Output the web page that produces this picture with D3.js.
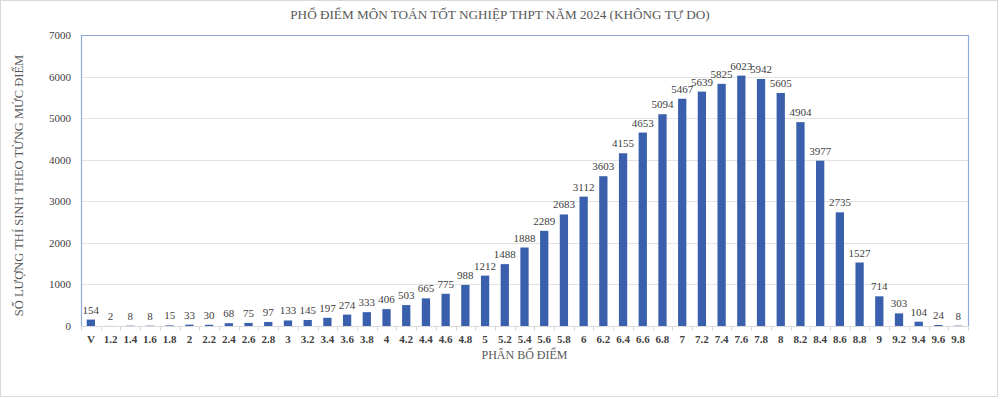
<!DOCTYPE html>
<html>
<head>
<meta charset="utf-8">
<script src="https://cdn.jsdelivr.net/npm/d3@7"></script>
<style>
  body { margin: 0; background: #fff; }
  svg { display: block; }
</style>
</head>
<body>
<script>
// score bins (V = vang/absent-ish first bin) and number of candidates
var categories = ["V", "1.2", "1.4", "1.6", "1.8", "2", "2.2", "2.4", "2.6", "2.8",
  "3", "3.2", "3.4", "3.6", "3.8", "4", "4.2", "4.4", "4.6", "4.8",
  "5", "5.2", "5.4", "5.6", "5.8", "6", "6.2", "6.4", "6.6", "6.8",
  "7", "7.2", "7.4", "7.6", "7.8", "8", "8.2", "8.4", "8.6", "8.8",
  "9", "9.2", "9.4", "9.6", "9.8"];
var counts = [154, 2, 8, 8, 15, 33, 30, 68, 75, 97,
  133, 145, 197, 274, 333, 406, 503, 665, 775, 988,
  1212, 1488, 1888, 2289, 2683, 3112, 3603, 4155, 4653, 5094,
  5467, 5639, 5825, 6023, 5942, 5605, 4904, 3977, 2735, 1527,
  714, 303, 104, 24, 8];
var yTicks = [0, 1000, 2000, 3000, 4000, 5000, 6000, 7000];

var w = 1000;
var h = 399;
var m = {left: 81, right: 32, top: 35, bottom: 73};
var serif = "'Liberation Serif', 'Times New Roman', serif";

var svg = d3.select("body")
  .append("svg")
  .attr("width", w)
  .attr("height", h);

// outer frame
svg.append("rect")
  .attr("x", 0.5).attr("y", 0.5)
  .attr("width", w - 3).attr("height", h - 3)
  .attr("fill", "#fff")
  .attr("stroke", "#d9d9d9");

var x = d3.scaleBand()
  .domain(categories)
  .range([m.left, w - m.right])
  .paddingInner(0.58)
  .paddingOuter(0.29);

var y = d3.scaleLinear()
  .domain([0, 7000])
  .range([h - m.bottom, m.top]);

// gridlines
svg.append("g")
  .selectAll("line")
  .data(yTicks.slice(1, -1))
  .enter()
  .append("line")
  .attr("x1", m.left).attr("x2", w - m.right)
  .attr("y1", function(d) { return Math.round(y(d)) + 0.5; })
  .attr("y2", function(d) { return Math.round(y(d)) + 0.5; })
  .attr("stroke", "#e3e3e3");

// y tick labels
svg.append("g")
  .selectAll("text")
  .data(yTicks)
  .enter()
  .append("text")
  .attr("x", m.left - 10)
  .attr("y", function(d) { return y(d) + 4; })
  .attr("text-anchor", "end")
  .attr("font-family", serif)
  .attr("font-size", "11px")
  .attr("fill", "#404040")
  .text(function(d) { return d; });

// plot frame (left, top, right) in blue
var x0 = m.left + 0.5, x1 = w - m.right + 0.5, yt = Math.round(m.top) + 0.5, yb = h - m.bottom;
svg.append("path")
  .attr("d", "M" + x0 + "," + yb + "V" + yt + "H" + x1 + "V" + yb)
  .attr("fill", "none")
  .attr("stroke", "#8eaadb")
  .attr("stroke-width", 1.2);

// x axis baseline and ticks between categories
svg.append("line")
  .attr("x1", m.left).attr("x2", w - m.right)
  .attr("y1", yb + 0.5).attr("y2", yb + 0.5)
  .attr("stroke", "#d9d9d9");

svg.append("g")
  .selectAll("line")
  .data(d3.range(categories.length + 1))
  .enter()
  .append("line")
  .attr("x1", function(i) { return Math.round(m.left + i * (w - m.left - m.right) / categories.length) + 0.5; })
  .attr("x2", function(i) { return Math.round(m.left + i * (w - m.left - m.right) / categories.length) + 0.5; })
  .attr("y1", yb).attr("y2", yb + 5)
  .attr("stroke", "#d9d9d9");

// bars
svg.append("g")
  .selectAll("rect")
  .data(counts)
  .enter()
  .append("rect")
  .attr("x", function(d, i) { return x(categories[i]); })
  .attr("y", function(d) { return y(d); })
  .attr("width", x.bandwidth())
  .attr("height", function(d) { return yb - y(d); })
  .attr("fill", "#3a60ad");

// value labels
svg.append("g")
  .selectAll("text")
  .data(counts)
  .enter()
  .append("text")
  .attr("x", function(d, i) { return x(categories[i]) + x.bandwidth() / 2; })
  .attr("y", function(d) { return y(d) - 6; })
  .attr("text-anchor", "middle")
  .attr("font-family", serif)
  .attr("font-size", "11px")
  .attr("fill", "#404040")
  .text(function(d) { return d; });

// category labels
svg.append("g")
  .selectAll("text")
  .data(categories)
  .enter()
  .append("text")
  .attr("x", function(d) { return x(d) + x.bandwidth() / 2; })
  .attr("y", yb + 17)
  .attr("text-anchor", "middle")
  .attr("font-family", serif)
  .attr("font-size", "11px")
  .attr("font-weight", "bold")
  .attr("fill", "#404040")
  .text(function(d) { return d; });

// titles
svg.append("text")
  .attr("x", 500).attr("y", 19)
  .attr("text-anchor", "middle")
  .attr("font-family", serif)
  .attr("font-size", "13.2px")
  .attr("fill", "#595959")
  .text("PHỔ ĐIỂM MÔN TOÁN TỐT NGHIỆP THPT NĂM 2024 (KHÔNG TỰ DO)");

svg.append("text")
  .attr("x", (m.left + w - m.right) / 2).attr("y", yb + 33)
  .attr("text-anchor", "middle")
  .attr("font-family", serif)
  .attr("font-size", "12px")
  .attr("fill", "#595959")
  .text("PHÂN BỐ ĐIỂM");

svg.append("text")
  .attr("transform", "translate(23," + ((m.top + yb) / 2 + 5) + ") rotate(-90)")
  .attr("text-anchor", "middle")
  .attr("font-family", serif)
  .attr("font-size", "12.5px")
  .attr("fill", "#595959")
  .text("SỐ LƯỢNG THÍ SINH THEO TỪNG MỨC ĐIỂM");
</script>
</body>
</html>
